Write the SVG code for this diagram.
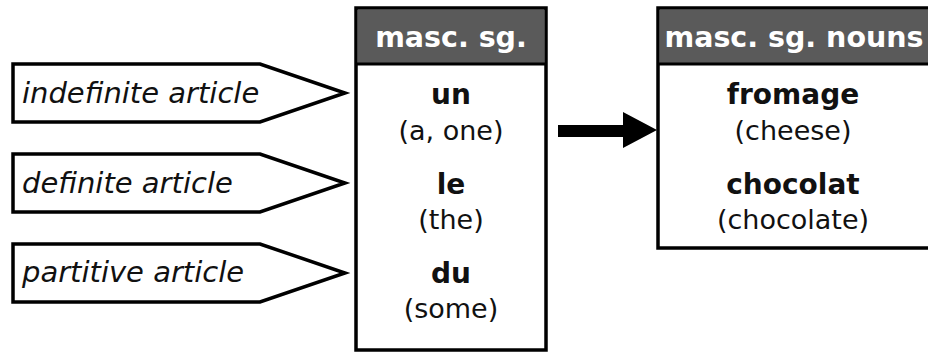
<svg xmlns="http://www.w3.org/2000/svg" width="928" height="354" viewBox="0 0 928 354">
<style>
text{font-family:"DejaVu Sans","Noto Sans",sans-serif;fill:#111}
.tag{fill:#fff;stroke:#000;stroke-width:3.5}
.tagt{font-size:29px;font-style:italic}
.box{fill:#fff;stroke:#000;stroke-width:3.5}
.hdr{fill:#5a5a5a}
.ht{font-size:28.5px;font-weight:bold;fill:#fff;text-anchor:middle}
.w{font-size:28px;font-weight:bold;text-anchor:middle}
.g{font-size:27px;text-anchor:middle}
</style>
<g id="tag-indefinite">
<polygon class="tag" points="13,64 260,64 345,93 260,122 13,122"/>
<text class="tagt" x="22" y="103">indefinite article</text>
</g>
<g id="tag-definite">
<polygon class="tag" points="13,154 260,154 345,183 260,212 13,212"/>
<text class="tagt" x="22" y="193">definite article</text>
</g>
<g id="tag-partitive">
<polygon class="tag" points="13,244 260,244 345,273 260,302 13,302"/>
<text class="tagt" x="22" y="282">partitive article</text>
</g>
<g id="masc-sg">
<rect class="box" x="356" y="8" width="190" height="342"/>
<rect class="hdr" x="357.75" y="9.75" width="186.5" height="54"/>
<line x1="356" y1="64" x2="546" y2="64" stroke="#000" stroke-width="3"/>
<text class="ht" x="451" y="47">masc. sg.</text>
<text class="w" x="451" y="104">un</text>
<text class="g" x="451" y="140">(a, one)</text>
<text class="w" x="451" y="194">le</text>
<text class="g" x="451" y="229">(the)</text>
<text class="w" x="451" y="283">du</text>
<text class="g" x="451" y="318">(some)</text>
</g>
<g id="masc-sg-nouns">
<rect class="box" x="658" y="8" width="280" height="240"/>
<rect class="hdr" x="659.75" y="9.75" width="276" height="54"/>
<line x1="658" y1="64" x2="930" y2="64" stroke="#000" stroke-width="3"/>
<text class="ht" x="794" y="47">masc. sg. nouns</text>
<text class="w" x="793" y="104">fromage</text>
<text class="g" x="793" y="140">(cheese)</text>
<text class="w" x="793" y="194">chocolat</text>
<text class="g" x="793" y="229">(chocolate)</text>
</g>
<g id="connectors">
<polygon points="558,125 623,125 623,112 657,130 623,148 623,137 558,137" fill="#000"/>
</g>
</svg>
